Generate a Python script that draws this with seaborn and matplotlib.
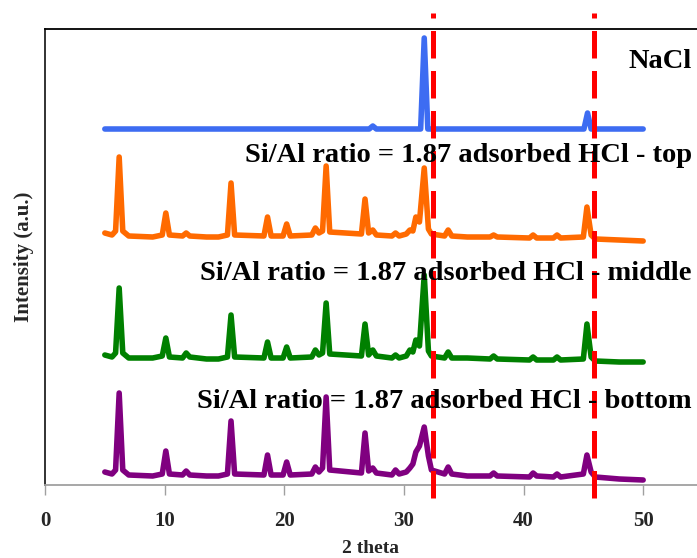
import matplotlib
matplotlib.use("Agg")
import matplotlib.pyplot as plt
import seaborn as sns
import pandas as pd
import numpy as np

# ---------------- data ----------------
# 2-theta sampling points for the zeolite patterns (baseline / peak / baseline)
two_theta = [5.0, 5.6, 5.9, 6.2, 6.5, 7.0, 9.0, 9.8, 10.1, 10.4, 11.5, 11.8, 12.1,
             13.5, 14.5, 15.25, 15.55, 15.85, 18.3, 18.6, 18.9, 19.9, 20.2, 20.5,
             22.3, 22.6, 22.9, 23.2, 23.5, 23.8, 26.45, 26.75, 27.05, 27.4, 27.7,
             29.0, 29.3, 29.6, 30.2, 30.5, 30.75, 31.0, 31.3, 31.7, 32.05, 32.3,
             33.4, 33.7, 34.0, 35.3, 37.2, 37.5, 37.8, 40.5, 40.8, 41.1, 42.5,
             42.8, 43.1, 45.0, 45.3, 45.65, 46.0, 48.0, 50.0]

top_int = [4, 2, 6, 80, 6, 1, 0, 2, 24, 2, 1, 4, 1,
           0, 0, 2, 54, 2, 1, 20, 1, 1, 13, 1,
           2, 9, 4, 6, 71, 5, 3, 38, 4, 7, 2,
           1, 4, 1, 3, 7, 6, 20, 15, 69, 8, 3,
           1, 7, 1, 0, 0, 2, 0, -1, 2, -1, -1,
           2, -1, 0, 30, 2, -2, -3, -4]

middle_int = [3, 1, 5, 70, 5, 0, 0, 2, 20, 1, 0, 5, 1,
              -1, -1, 1, 43, 1, 0, 16, 0, 0, 11, 0,
              1, 8, 3, 5, 55, 4, 2, 34, 3, 8, 2,
              0, 3, 0, 2, 8, 6, 18, 12, 83, 7, 2,
              0, 6, 0, 0, -1, 2, -1, -2, 1, -2, -2,
              1, -2, -1, 34, 1, -3, -4, -4]

bottom_int = [4, 2, 6, 83, 6, 1, 0, 2, 25, 2, 1, 5, 1,
              0, 0, 2, 55, 2, 1, 21, 1, 1, 14, 1,
              2, 9, 4, 8, 79, 6, 3, 43, 5, 8, 3,
              1, 6, 2, 4, 8, 12, 24, 30, 49, 20, 6,
              2, 9, 2, 0, 0, 3, 0, -1, 3, 0, -1,
              2, -1, 2, 21, 4, -1, -3, -4]

nacl_theta = [5.0, 27.1, 27.4, 27.7, 31.4, 31.7, 32.0, 45.05, 45.35, 45.65, 50.0]
nacl_int = [0, 0, 3, 0, 0, 91, 0, 0, 16, 0, 0]

series_names = ["NaCl",
                "Si/Al ratio = 1.87 adsorbed HCl - top",
                "Si/Al ratio = 1.87 adsorbed HCl - middle",
                "Si/Al ratio = 1.87 adsorbed HCl - bottom"]
ref_lines = [32.4, 45.9]
x_ticks = [0, 10, 20, 30, 40, 50]

# ---------------- styling / layout ----------------
colors = ["#3d6cf2", "#ff6a00", "#008000", "#800080"]
offsets = [356, 248, 127, 9]     # vertical stacking of the patterns

frames = []
for name, th, inten, off in zip(series_names,
                                [nacl_theta, two_theta, two_theta, two_theta],
                                [nacl_int, top_int, middle_int, bottom_int],
                                offsets):
    frames.append(pd.DataFrame({"theta": th,
                                "intensity": np.asarray(inten, float) + off,
                                "sample": name}))
df = pd.concat(frames, ignore_index=True)

sns.set_style("white")
plt.rcParams["font.family"] = ["Liberation Serif", "DejaVu Serif"]
plt.rcParams["font.weight"] = "bold"

fig = plt.figure(figsize=(6.97, 5.58), dpi=100)
ax = fig.add_axes([45 / 697, 1 - 485 / 558, 1 - 45 / 697, (485 - 29) / 558])

sns.lineplot(data=df, x="theta", y="intensity", hue="sample",
             palette=dict(zip(series_names, colors)), hue_order=series_names,
             estimator=None, sort=False, lw=4.0, legend=False, ax=ax,
             solid_joinstyle="round", solid_capstyle="round")

ax.set_xlim(0, 54.5)
ax.set_ylim(0, 456)
ax.set_yticks([])
ax.set_xticks(x_ticks)
ax.set_xticklabels([str(t) for t in x_ticks], fontsize=15, fontweight="bold")
ax.tick_params(axis="x", direction="out", length=7, width=1, color="#a0a0a0",
               pad=12, bottom=True)

ax.spines["right"].set_visible(False)
ax.spines["top"].set_color("black")
ax.spines["top"].set_linewidth(1.3)
ax.spines["left"].set_color("#222222")
ax.spines["left"].set_linewidth(1.3)
ax.spines["bottom"].set_color("#a0a0a0")
ax.spines["bottom"].set_linewidth(1.3)

for xv in ref_lines:
    ax.plot([xv, xv], [-0.028, 1.035], transform=ax.get_xaxis_transform(),
            color="#ff0000", lw=3.6, ls=(0, (5.5, 2.5)), clip_on=False, zorder=15)

ax.set_xlabel("2 theta", fontsize=14, fontweight="bold", labelpad=6)
ax.set_ylabel("Intensity (a.u.)", fontsize=15, fontweight="bold", labelpad=8)

label_y = [62, 155, 273, 402]
for name, yp in zip(series_names, label_y):
    fig.text(692 / 697, 1 - yp / 558, name, ha="right", va="center",
             fontsize=20.5, fontweight="bold", color="black", zorder=10)

fig.savefig("out.png", dpi=100)
